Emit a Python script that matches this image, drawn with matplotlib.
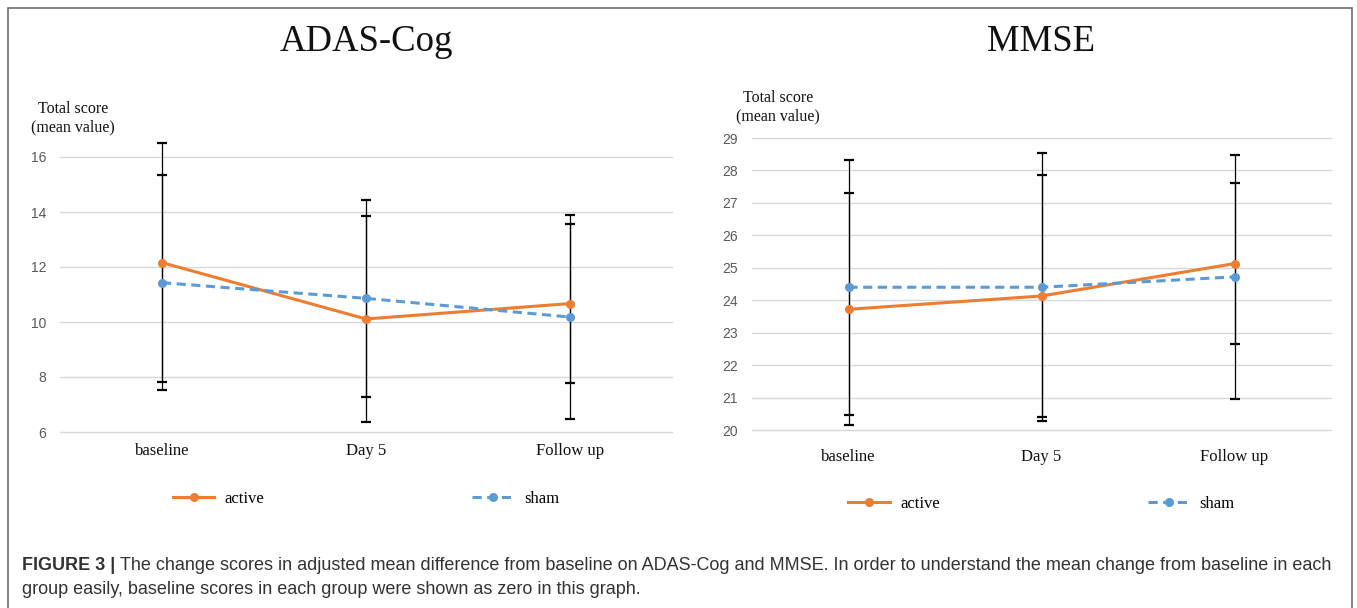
import numpy as np
import matplotlib.pyplot as plt
from matplotlib.patches import Rectangle

# categories and values
timepoints = ["baseline", "Day 5", "Follow up"]

adas_active = [12.16, 10.11, 10.67]
adas_active_err = [4.34, 3.74, 2.88]
adas_sham = [11.43, 10.86, 10.18]
adas_sham_err = [3.91, 3.57, 3.70]

mmse_active = [23.72, 24.13, 25.13]
mmse_active_err = [3.57, 3.74, 2.48]
mmse_sham = [24.40, 24.40, 24.72]
mmse_sham_err = [3.93, 4.13, 3.75]

adas_ticks = [6, 8, 10, 12, 14, 16]
mmse_ticks = list(range(20, 30))

ORANGE = "#ED7D31"
BLUE = "#5B9BD5"
GRID = "#D9D9D9"
SERIF = ["Liberation Serif", "DejaVu Serif"]
TICKFONT = ["Liberation Sans Narrow", "Liberation Sans", "DejaVu Sans"]

W, H = 1357, 608
fig = plt.figure(figsize=(W / 100, H / 100), dpi=100)


def px(x0, y0, x1, y1):
    # pixel box (top-left origin) -> figure fraction rect
    return [x0 / W, 1 - y1 / H, (x1 - x0) / W, (y1 - y0) / H]


def panel(rect, title, title_y, active, active_err, sham, sham_err,
          ticks, lab_pad, ylab_xy, leg_y):
    ax = fig.add_axes(rect)
    x = np.arange(len(timepoints))
    ax.set_xlim(-0.5, len(timepoints) - 0.5)
    ax.set_ylim(ticks[0], ticks[-1])
    ax.set_yticks(ticks)
    ax.set_xticks(x)
    ax.set_xticklabels(timepoints, family=SERIF, fontsize=12, color="#111111")
    for t in ax.get_yticklabels():
        t.set_family(TICKFONT)
        t.set_fontsize(10)
        t.set_color("#595959")
    ax.tick_params(axis="y", length=0, pad=10)
    ax.tick_params(axis="x", length=0, pad=lab_pad)
    for s in ax.spines.values():
        s.set_visible(False)
    ax.yaxis.grid(True, color=GRID, linewidth=1.0)
    for gl in ax.get_ygridlines():
        gl.set_clip_on(False)
    ax.set_axisbelow(True)

    for vals, err in ((active, active_err), (sham, sham_err)):
        ax.errorbar(x, vals, yerr=err, fmt="none", ecolor="black",
                    elinewidth=0.9, capsize=3.3, capthick=1.6,
                    clip_on=False, zorder=2)
    ax.plot(x, active, color=ORANGE, lw=2.2, marker="o", ms=5.5,
            label="active", zorder=3, clip_on=False)
    ax.plot(x, sham, color=BLUE, lw=2.2, marker="o", ms=5.5, dashes=(3, 1.8),
            label="sham", zorder=3, clip_on=False)

    ax.legend(loc="center", bbox_to_anchor=(0.5, leg_y), ncol=2,
              frameon=False, handlelength=2.5, columnspacing=12.5,
              handletextpad=0.6, prop={"family": SERIF, "size": 12})

    fig.text(ylab_xy[0] / W, 1 - ylab_xy[1] / H, "Total score\n(mean value)",
             family=SERIF, fontsize=11.5, ha="center", va="center",
             linespacing=1.15, color="#111111")
    cx = rect[0] + rect[2] / 2
    fig.text(cx, 1 - title_y / H, title, family=SERIF, fontsize=26.5,
             ha="center", va="center", color="#111111")
    return ax


panel(px(60, 157, 672, 432), "ADAS-Cog", 42, adas_active, adas_active_err,
      adas_sham, adas_sham_err, adas_ticks, 8, (73, 118), -0.243)
panel(px(752, 138, 1331, 430), "MMSE", 42, mmse_active, mmse_active_err,
      mmse_sham, mmse_sham_err, mmse_ticks, 14, (778, 107), -0.254)

# outer frame, open at the bottom edge of the image
fig.patches.append(Rectangle((8 / W, -0.1), (1352 - 8) / W, 1.1 - 8 / H,
                             transform=fig.transFigure, fill=False,
                             edgecolor="#6E6E6E", linewidth=1.2))

cap1 = ("The change scores in adjusted mean difference from baseline on ADAS-Cog "
        "and MMSE. In order to understand the mean change from baseline in each")
cap2 = "group easily, baseline scores in each group were shown as zero in this graph."
t = fig.text(22 / W, 1 - 565 / H, "FIGURE 3 |", family="Liberation Sans",
             weight="bold", fontsize=13, color="#333333", va="center")
fig.canvas.draw()
bb = t.get_window_extent()
fig.text((bb.x1 + 5) / W, 1 - 565 / H, cap1, family="Liberation Sans",
         fontsize=13, color="#333333", va="center")
fig.text(22 / W, 1 - 589 / H, cap2, family="Liberation Sans",
         fontsize=13, color="#333333", va="center")

fig.savefig("out.png", dpi=100)
